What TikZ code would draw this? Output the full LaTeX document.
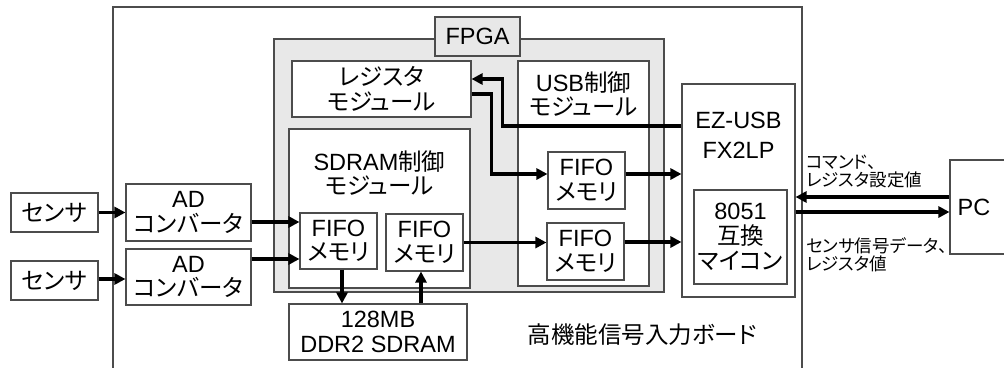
\documentclass[tikz,border=0pt]{standalone}
\usepackage{fontspec}
\setmainfont{Liberation Sans}
\newfontfamily\jpfont[RawFeature=+palt]{Noto Sans CJK JP}
\newcommand\jtxt[1]{{\jpfont #1}}
\usetikzlibrary{arrows.meta}
\tikzset{
  bx/.style={draw=black!70, line width=1.1pt, fill=white, inner sep=0pt, align=center,
    font=\fontsize{23.5}{24.5}\selectfont},
  txt/.style={inner sep=0pt, align=center, font=\fontsize{23.5}{24.5}\selectfont},
  small/.style={inner sep=0pt, align=left, font=\fontsize{17.5}{18}\selectfont},
  arr/.style={line width=3.5pt, -{Triangle[length=11pt,width=11pt]}},
}
\begin{document}
\begin{tikzpicture}[x=1pt,y=-1pt]
\useasboundingbox (0,0) rectangle (1004,367);
% board
\node[bx, minimum width=689pt, minimum height=373pt] (board) at (457.5,193.5) {};
% FPGA
\node[bx, fill=black!9, minimum width=390pt, minimum height=253pt] (fpga) at (469,165.5) {};
\node[bx, fill=black!9, minimum width=85pt, minimum height=39pt] (fpgalbl) at (477.5,36.5) {FPGA};
% modules
\node[bx, minimum width=179pt, minimum height=56pt] (reg) at (381.5,89) {\jtxt{レジスタ}\\\jtxt{モジュール}};
\node[bx, minimum width=181pt, minimum height=159pt] (sdram) at (379.5,208.5) {};
\node[txt] (sdramlbl) at (379.5,173) {SDRAM\jtxt{制御}\\\jtxt{モジュール}};
\node[bx, minimum width=131pt, minimum height=225pt] (usb) at (583.5,173.5) {};
\node[txt] (usblbl) at (583.5,94) {USB\jtxt{制御}\\\jtxt{モジュール}};
\node[bx, minimum width=113pt, minimum height=213pt] (ez) at (738.5,190.5) {};
\node[txt, font=\fontsize{23.5}{30}\selectfont] (ezlbl) at (738.5,135) {EZ-USB\\FX2LP};
\node[bx, minimum width=93pt, minimum height=94pt, font=\fontsize{23.5}{25}\selectfont] (mcu) at (740.5,237) {8051\\\jtxt{互換}\\\jtxt{マイコン}};
\node[bx, minimum width=77pt, minimum height=57pt] (ufifo1) at (586.5,180.5) {FIFO\\\jtxt{メモリ}};
\node[bx, minimum width=77pt, minimum height=57pt] (ufifo2) at (585.5,251.5) {FIFO\\\jtxt{メモリ}};
\node[bx, minimum width=77pt, minimum height=56pt] (sfifo1) at (338.5,241) {FIFO\\\jtxt{メモリ}};
\node[bx, minimum width=77pt, minimum height=57pt] (sfifo2) at (424.5,242.5) {FIFO\\\jtxt{メモリ}};
\node[bx, minimum width=178pt, minimum height=56pt] (ddr) at (378,332) {128MB\\DDR2 SDRAM};
\node[bx, minimum width=87pt, minimum height=39pt] (sen1) at (54.5,212.5) {\jtxt{センサ}};
\node[bx, minimum width=87pt, minimum height=39pt] (sen2) at (54.5,280.5) {\jtxt{センサ}};
\node[bx, minimum width=125pt, minimum height=57pt] (ad1) at (188.5,212.5) {AD\\\jtxt{コンバータ}};
\node[bx, minimum width=125pt, minimum height=56pt] (ad2) at (188.5,277) {AD\\\jtxt{コンバータ}};
\node[bx, minimum width=70pt, minimum height=94pt] (pc) at (985,207) {};
\node[txt] (pclbl) at (974,207) {PC};
% labels
\node[small, anchor=west] (cmd) at (806,172) {\jtxt{コマンド、}\\\jtxt{レジスタ設定値}};
\node[small, anchor=west] (dat) at (806,255) {\jtxt{センサ信号データ、}\\\jtxt{レジスタ値}};
\node[txt] (title) at (642,335) {\jtxt{高機能信号入力ボード}};
% arrows
\draw[arr] (sen1.east) -- (sen1.east -| ad1.west);
\draw[arr] ([yshift=1.5pt]sen2.east) -- ([yshift=1.5pt]sen2.east -| ad2.west);
\draw[arr] ([yshift=-9.5pt]ad1.east) -- ([yshift=-9.5pt]ad1.east -| sfifo1.west);
\draw[arr] ([yshift=18pt]ad2.east) -- ([yshift=18pt]ad2.east -| sfifo1.west);
\draw[arr] ([xshift=3.5pt]sfifo1.south) -- ([xshift=3.5pt]sfifo1.south |- ddr.north);
\draw[arr] ([xshift=-3.5pt]sfifo2.south |- ddr.north) -- ([xshift=-3.5pt]sfifo2.south);
\draw[arr] (sfifo2.east) -- (sfifo2.east -| ufifo2.west);
\draw[arr] ([yshift=9.5pt]ufifo2.east) -- ([yshift=9.5pt]ufifo2.east -| ez.west);
\draw[arr] ([yshift=6.5pt]ufifo1.east) -- ([yshift=6.5pt]ufifo1.east -| ez.west);
\draw[arr] ([yshift=-5pt]reg.east) -- ++(20,0) |- ([yshift=6.5pt]ufifo1.west);
\draw[arr] ([yshift=64.5pt]ez.west) -| ([xshift=31pt,yshift=10pt]reg.east) -- ([yshift=10pt]reg.east);
\draw[arr] ([yshift=10pt]pc.west) -- ([yshift=10pt]pc.west -| ez.east);
\draw[arr] ([yshift=-5pt]pc.west -| ez.east) -- ([yshift=-5pt]pc.west);
\end{tikzpicture}
\end{document}
